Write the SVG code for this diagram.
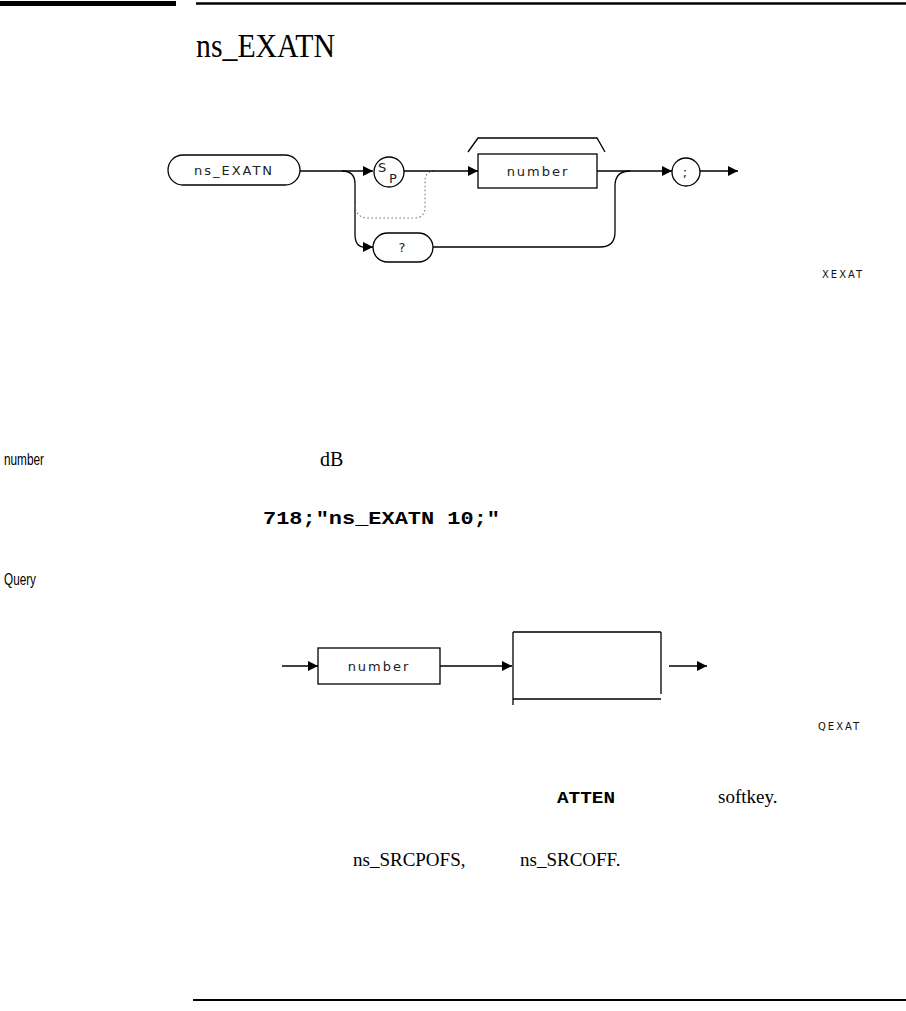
<svg xmlns="http://www.w3.org/2000/svg" width="906" height="1011" viewBox="0 0 906 1011">
<style>
.ln{fill:none;stroke:#000;stroke-width:1.3}
.dot{fill:none;stroke:#777;stroke-width:1.1;stroke-dasharray:1.5 2.5}
.box{fill:#fff;stroke:#000;stroke-width:1.3}
.lbl{font-family:"DejaVu Sans","Liberation Sans",sans-serif;font-size:13px;letter-spacing:2px;fill:#222}
.tag{font-family:"DejaVu Sans","Liberation Sans",sans-serif;font-size:10px;letter-spacing:2px;fill:#111}
.body{font-family:"Liberation Serif",serif;fill:#000}
.mono{font-family:"Liberation Mono",monospace;font-weight:bold;fill:#000}
.side{font-family:"Liberation Sans",sans-serif;font-size:16px;fill:#000}
</style>
<defs>
<marker id="ah" markerWidth="10" markerHeight="10" refX="10" refY="5" orient="auto" markerUnits="userSpaceOnUse">
<path d="M0,0 L10,5 L0,10 Z" fill="#000"/>
</marker>
</defs>
<rect x="0" y="1" width="176" height="5" fill="#000"/>
<line x1="196" y1="3.5" x2="906" y2="3.5" stroke="#000" stroke-width="2.5"/>
<text class="body" x="196" y="57" font-size="34" textLength="139" lengthAdjust="spacingAndGlyphs">ns_EXATN</text>

<g id="connectors1">
<path class="ln" d="M300,171 H373" marker-end="url(#ah)"/>
<path class="ln" d="M342,171 Q355,171 355,184 V234 Q355,247 364,247 H373" marker-end="url(#ah)"/>
<path class="dot" d="M355,205 Q356,218 368,218 H414 Q425,218 425,207 V182 Q425,171 434,171"/>
<path class="ln" d="M404,171 H478" marker-end="url(#ah)"/>
<path class="ln" d="M468,152 L478,138 H597 L605,152"/>
<path class="ln" d="M597,171 H672" marker-end="url(#ah)"/>
<path class="ln" d="M433,247 H600 Q615,247 615,232 V186 Q615,171 630,171"/>
<path class="ln" d="M700,171 H738" marker-end="url(#ah)"/>
</g>
<g id="n-cmd">
<rect class="box" x="168" y="155" width="132" height="30" rx="15"/>
<text class="lbl" x="234" y="175" text-anchor="middle">ns_EXATN</text>
</g>
<g id="n-sp">
<circle class="box" cx="389" cy="172" r="15"/>
<text class="lbl" x="378" y="172" font-size="11" letter-spacing="0">S</text>
<text class="lbl" x="389" y="183" font-size="11" letter-spacing="0">P</text>
</g>
<g id="n-number">
<rect class="box" x="478" y="154" width="119" height="34"/>
<text class="lbl" x="538" y="176" text-anchor="middle">number</text>
</g>
<g id="n-query">
<rect class="box" x="373" y="233" width="60" height="29" rx="14.5"/>
<text class="lbl" x="403" y="252" text-anchor="middle" letter-spacing="0">?</text>
</g>
<g id="n-semi">
<circle class="box" cx="686" cy="172" r="14"/>
<text class="lbl" x="686" y="177" text-anchor="middle" letter-spacing="0">;</text>
</g>
<text class="tag" x="822" y="278">XEXAT</text>

<text class="side" x="4" y="465" textLength="40" lengthAdjust="spacingAndGlyphs">number</text>
<text class="body" x="320" y="466" font-size="20">dB</text>
<text class="mono" x="263" y="524" font-size="19" textLength="237" lengthAdjust="spacingAndGlyphs">718;"ns_EXATN 10;"</text>
<text class="side" x="4" y="585" textLength="32" lengthAdjust="spacingAndGlyphs">Query</text>

<g id="connectors2">
<path class="ln" d="M282,666 H318" marker-end="url(#ah)"/>
<path class="ln" d="M440,666 H512" marker-end="url(#ah)"/>
<path class="ln" d="M669,666 H707" marker-end="url(#ah)"/>
</g>
<g id="n-number2">
<rect class="box" x="318" y="648" width="122" height="36"/>
<text class="lbl" x="379" y="671" text-anchor="middle">number</text>
</g>
<g id="n-out">
<path class="ln" d="M513,632 H661 M513,632 V705 M513,699 H661 M661,632 V694"/>
</g>
<text class="tag" x="818" y="730">QEXAT</text>

<text class="mono" x="557" y="803" font-size="17" textLength="58" lengthAdjust="spacingAndGlyphs">ATTEN</text>
<text class="body" x="718" y="803" font-size="19">softkey.</text>
<text class="body" x="353" y="866" font-size="19">ns_SRCPOFS,</text>
<text class="body" x="520" y="866" font-size="19">ns_SRCOFF.</text>
<line x1="193" y1="1000" x2="906" y2="1000" stroke="#000" stroke-width="2"/>
</svg>
